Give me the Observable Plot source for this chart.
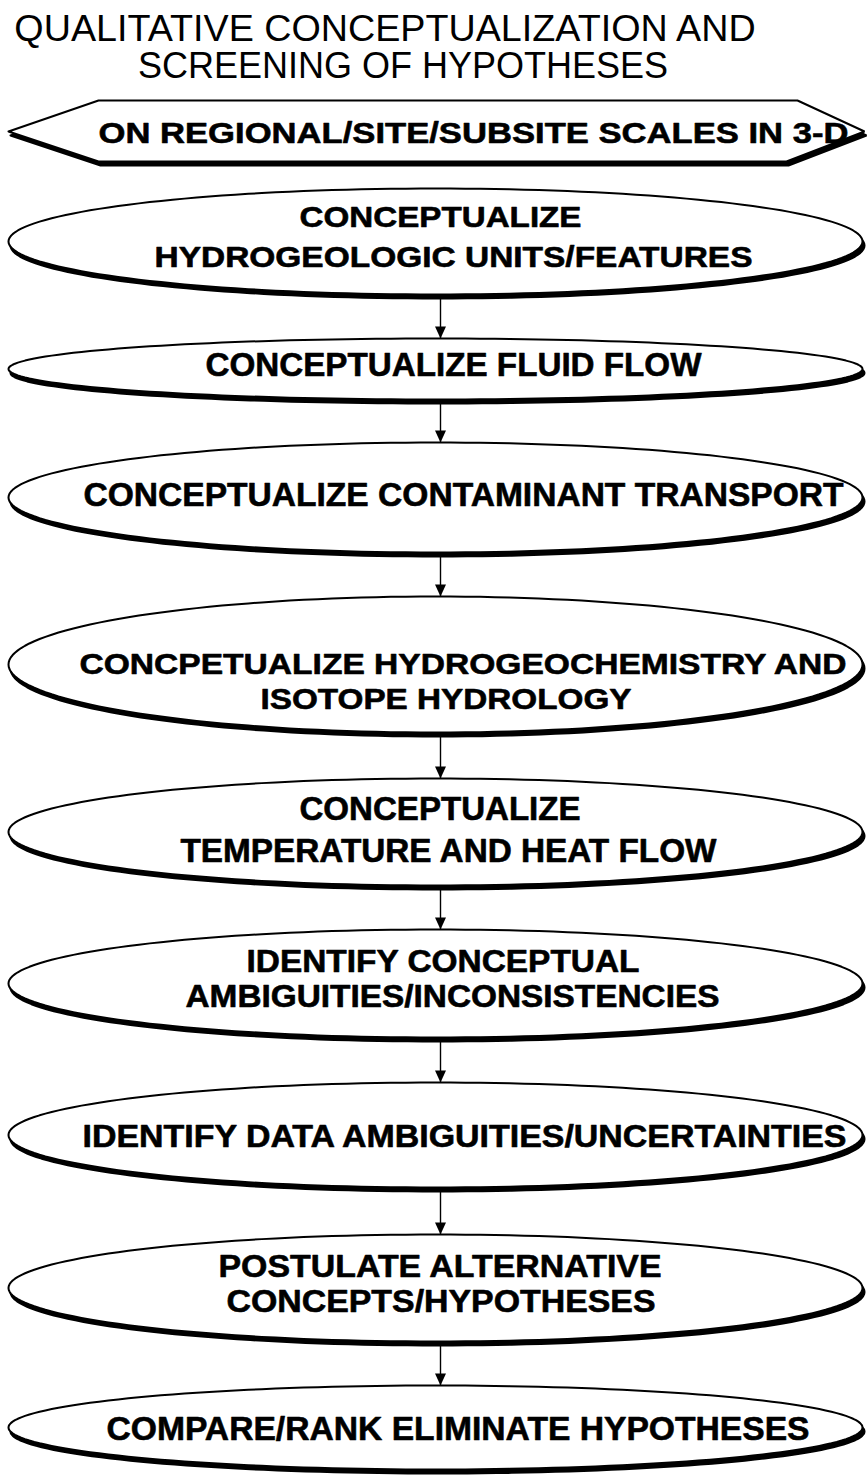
<!DOCTYPE html>
<html>
<head>
<meta charset="utf-8">
<script src="https://cdn.jsdelivr.net/npm/d3@7"></script>
<script src="https://cdn.jsdelivr.net/npm/@observablehq/plot@0.6"></script>
<style>
  html, body { margin: 0; padding: 0; background: #fff; }
  #title { height: 90px; box-sizing: border-box; padding-top: 9px; font-family: "Liberation Sans", Arial, sans-serif; color: #000; white-space: nowrap; }
  #title div { width: 867px; text-align: center; position: relative; }
  #t1 { font-size: 37.7px; line-height: 38px; left: -48.5px; }
  #t2 { font-size: 36px; line-height: 38.5px; left: -30.5px; }
  #chart svg { display: block; }
</style>
</head>
<body>
<div id="title"><div id="t1"></div><div id="t2"></div></div>
<div id="chart"></div>
<script>
// ---------------- data ----------------
const titleLines = ["QUALITATIVE CONCEPTUALIZATION AND", "SCREENING OF HYPOTHESES"];
const scopeLabel = ["ON REGIONAL/SITE/SUBSITE SCALES IN 3-D"];
const stepLabels = [
  ["CONCEPTUALIZE", "HYDROGEOLOGIC UNITS/FEATURES"],
  ["CONCEPTUALIZE FLUID FLOW"],
  ["CONCEPTUALIZE CONTAMINANT TRANSPORT"],
  ["CONCPETUALIZE HYDROGEOCHEMISTRY AND", "ISOTOPE HYDROLOGY"],
  ["CONCEPTUALIZE", "TEMPERATURE AND HEAT FLOW"],
  ["IDENTIFY CONCEPTUAL", "AMBIGUITIES/INCONSISTENCIES"],
  ["IDENTIFY DATA AMBIGUITIES/UNCERTAINTIES"],
  ["POSTULATE ALTERNATIVE", "CONCEPTS/HYPOTHESES"],
  ["COMPARE/RANK ELIMINATE HYPOTHESES"]
];
// vertical extent of each step (diagram units, top -> bottom)
const scopeTop = 100, scopeBottom = 161;
const stepTop    = [188, 338, 442, 596, 778, 929, 1082, 1234, 1385];
const stepBottom = [294, 399, 552, 732, 885, 1037, 1187, 1341, 1469];

// ---------------- layout / style ----------------
const W = 867, TOP = 90, BOTTOM = 1477;
const boxLeft = 8, boxRight = 862, flowX = 440;
const hex = {tipL: 8, tipR: 864, innerL: 98, innerTR: 797, innerBR: 786, mid: 131};
const shadow = {dx: 2, dy: 4};
// per text line: left, width, center y, font size (hexagon line first, then steps)
const lineStyle = [
  [98, 750, 132.5, 30],
  [299, 282, 217, 30], [154, 598, 257, 30],
  [205, 496, 365, 34],
  [83, 760, 494.5, 34],
  [79, 767, 664, 30], [260, 371, 698.5, 30],
  [299, 281, 808.5, 33], [180, 536, 851, 33],
  [246, 393, 962, 31], [185, 534, 996.5, 31],
  [82, 764, 1136, 32],
  [218, 443, 1266, 32], [226, 429, 1301.5, 32],
  [106, 703, 1428.5, 34]
];

document.getElementById("t1").textContent = titleLines[0];
document.getElementById("t2").textContent = titleLines[1];

// ellipse outlines
const N = 180;
const ellPts = [];
stepLabels.forEach((_, i) => {
  const cx = (boxLeft + boxRight) / 2, rx = (boxRight - boxLeft) / 2;
  const cy = (stepTop[i] + stepBottom[i]) / 2, ry = (stepBottom[i] - stepTop[i]) / 2;
  for (let k = 0; k <= N; ++k) {
    const t = 2 * Math.PI * k / N;
    ellPts.push({id: i, x: cx + rx * Math.cos(t), y: cy + ry * Math.sin(t)});
  }
});
// hexagon outline
const hexPts = [
  [hex.tipL, hex.mid], [hex.innerL, scopeTop], [hex.innerTR, scopeTop],
  [hex.tipR, hex.mid], [hex.innerBR, scopeBottom], [hex.innerL, scopeBottom], [hex.tipL, hex.mid]
].map(([x, y]) => ({x, y}));

// arrows between consecutive steps
const arrows = d3.range(stepLabels.length - 1).map(i => ({
  x: flowX, y1: stepBottom[i] + shadow.dy, y2: stepTop[i + 1]
}));

// text lines
const allLines = [...scopeLabel, ...stepLabels.flat()];
const lines = allLines.map((text, i) => ({
  text, x0: lineStyle[i][0], w: lineStyle[i][1], y: lineStyle[i][2], fs: lineStyle[i][3]
}));

const downTriangle = {
  draw(context) {
    context.moveTo(-5.5, -12);
    context.lineTo(5.5, -12);
    context.lineTo(0, 0);
    context.closePath();
  }
};

const plot = Plot.plot({
  width: W,
  height: BOTTOM - TOP,
  margin: 0,
  x: {domain: [0, W], range: [0, W], axis: null},
  y: {domain: [TOP, BOTTOM], range: [0, BOTTOM - TOP], axis: null},
  style: {background: "white", overflow: "visible"},
  marks: [
    // shadows
    Plot.line(ellPts, {x: "x", y: "y", z: "id", fill: "black", stroke: "black", strokeWidth: 2, dx: shadow.dx, dy: shadow.dy}),
    Plot.line(hexPts, {x: "x", y: "y", fill: "black", stroke: "black", strokeWidth: 2, strokeLinejoin: "miter", dx: shadow.dx, dy: shadow.dy}),
    // shapes
    Plot.line(ellPts, {x: "x", y: "y", z: "id", fill: "white", stroke: "black", strokeWidth: 2}),
    Plot.line(hexPts, {x: "x", y: "y", fill: "white", stroke: "black", strokeWidth: 2, strokeLinejoin: "miter"}),
    // arrows
    Plot.ruleX(arrows, {x: "x", y1: "y1", y2: "y2", stroke: "black", strokeWidth: 1.4}),
    Plot.dot(arrows, {x: "x", y: "y2", symbol: downTriangle, fill: "black", r: 4}),
    // labels
    Plot.text(lines, {
      x: "x0", y: "y", text: "text", fontSize: "fs", textAnchor: "start",
      fontWeight: "bold", fontFamily: "'Liberation Sans', Arial, sans-serif",
      fill: "black", stroke: "black", strokeWidth: 0.6, strokeLinejoin: "round"
    })
  ]
});

plot.querySelectorAll('g[aria-label="text"] text').forEach((t, i) => {
  t.setAttribute("textLength", lines[i].w);
  t.setAttribute("lengthAdjust", "spacingAndGlyphs");
});

document.getElementById("chart").appendChild(plot);
</script>
</body>
</html>
